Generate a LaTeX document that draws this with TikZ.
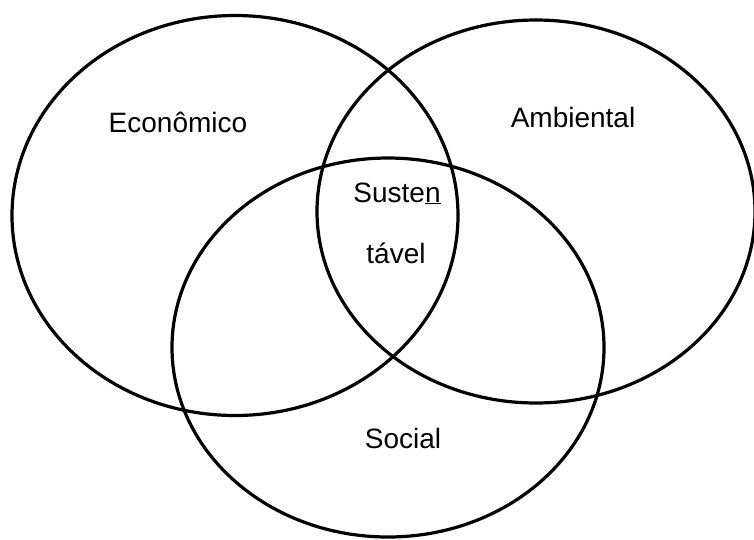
\documentclass[tikz,border=0pt]{standalone}
\usepackage{fontspec}
\setmainfont{Liberation Sans}

\begin{document}
\begin{tikzpicture} [ x=1pt, y=-1pt,
		      every node/.style={font=\fontsize{28}{33}\selectfont, anchor=base, inner sep=0pt},
		      set/.style={draw, line width=3.2pt}
		    ]
  \useasboundingbox (0,0) rectangle (754,539);

  % the three sets
  \draw[set] (235,215.5) ellipse [x radius=223, y radius=200];
  \draw[set] (536,211.5) ellipse [x radius=219, y radius=191.5];
  \draw[set] (388,347.5) ellipse [x radius=216, y radius=189.5];

  \node (eco) at (178,132) {Econômico};
  \node (amb) at (573,127) {Ambiental};
  \node (sus) at (397,202) {Suste\underline{n}};
  \node (tav) at (396,263) {tável};
  \node (soc) at (403,448) {Social};
\end{tikzpicture}
\end{document}
